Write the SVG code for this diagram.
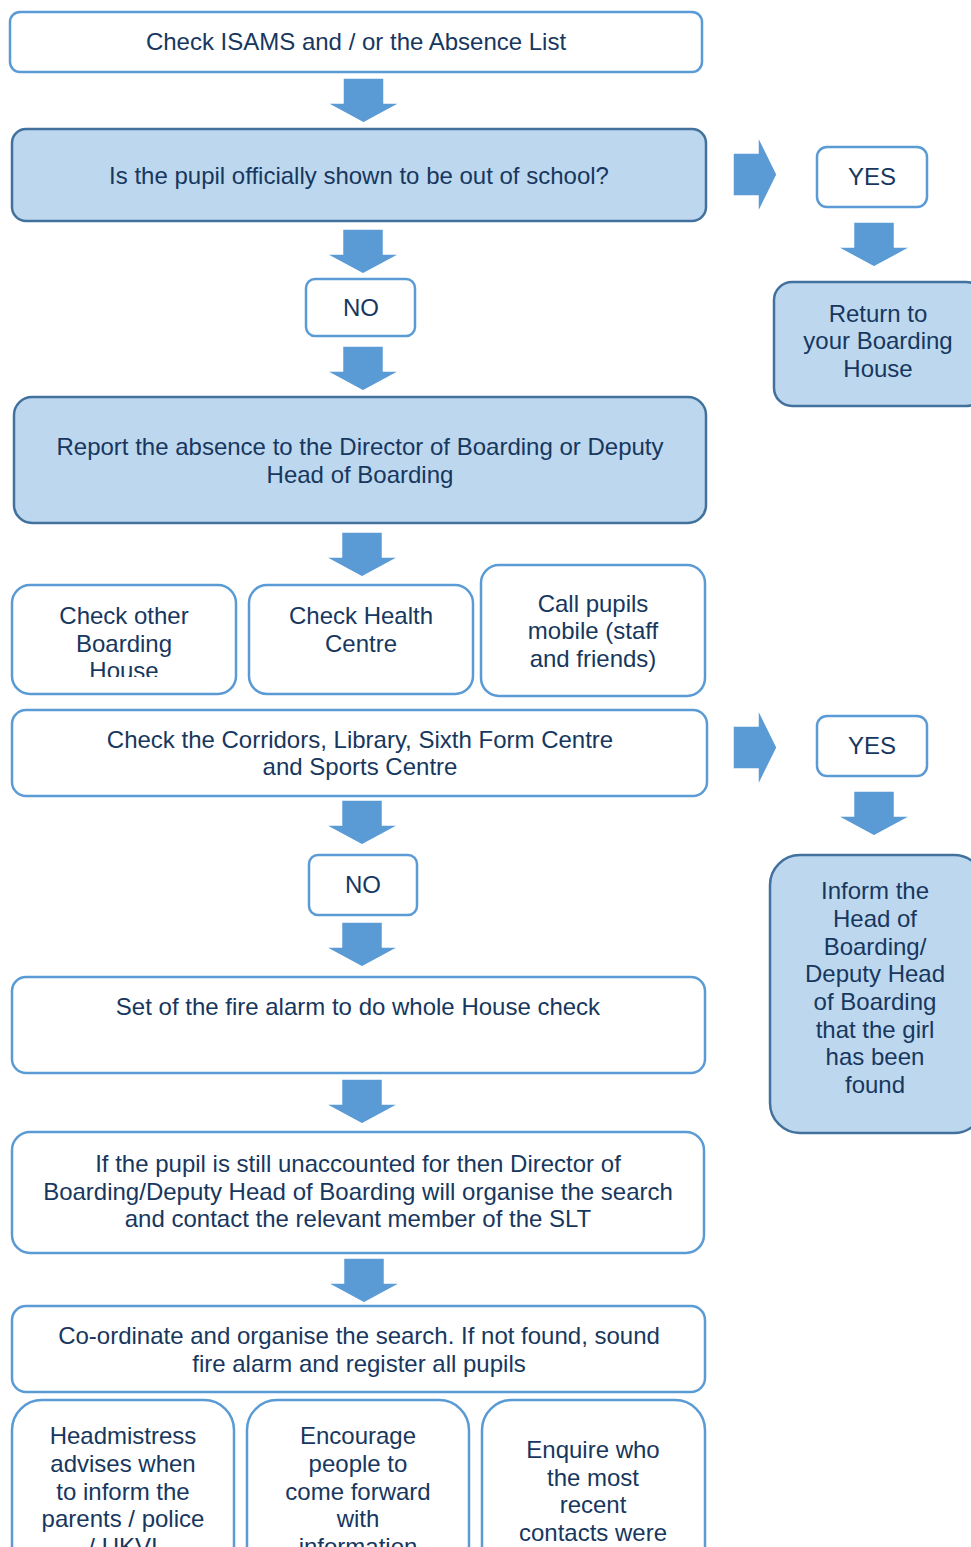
<svg xmlns="http://www.w3.org/2000/svg" xmlns:xlink="http://www.w3.org/1999/xlink" width="971" height="1547" viewBox="0 0 971 1547">
<style>
.w{fill:#ffffff;stroke:#5b9bd5;stroke-width:2.5}
.f{fill:#bdd7ee;stroke:#41719c;stroke-width:2.5}
text{font-family:"Liberation Sans",Arial,sans-serif;font-size:24px;fill:#17375e;text-anchor:middle}
.arr{fill:#5b9bd5;stroke:#ffffff;stroke-width:1.5}
</style>
<defs>
<path id="dn" d="M-20.5,0 H20.5 V25 H37 L0,45 L-37,25 H-20.5 Z"/>
<path id="rt" d="M0,-21.5 H25 V-38.5 L44,0 L25,38.5 V21.5 H0 Z"/>
<clipPath id="clipA"><rect x="12" y="585" width="224" height="92"/></clipPath>
</defs>
<rect width="971" height="1547" fill="#ffffff"/>

<g id="connectors">
<use xlink:href="#dn" class="arr" x="363.5" y="78"/>
<use xlink:href="#rt" class="arr" x="733" y="174.5"/>
<use xlink:href="#dn" class="arr" x="874" y="222"/>
<use xlink:href="#dn" class="arr" x="363" y="229"/>
<use xlink:href="#dn" class="arr" x="363" y="346"/>
<use xlink:href="#dn" class="arr" x="362" y="532"/>
<use xlink:href="#rt" class="arr" x="733" y="747.5"/>
<use xlink:href="#dn" class="arr" x="874" y="791"/>
<use xlink:href="#dn" class="arr" x="362" y="800"/>
<use xlink:href="#dn" class="arr" x="362" y="922"/>
<use xlink:href="#dn" class="arr" x="362" y="1079"/>
<use xlink:href="#dn" class="arr" x="364" y="1258"/>
</g>

<g id="n1"><rect class="w" x="10" y="12" width="692" height="60" rx="10"/><text x="356" y="50">Check ISAMS and / or the Absence List</text></g>
<g id="n2"><rect class="f" x="12" y="129" width="694" height="92" rx="14"/><text x="359" y="184">Is the pupil officially shown to be out of school?</text></g>
<g id="yes1"><rect class="w" x="817" y="147" width="110" height="60" rx="10"/><text x="872" y="185">YES</text></g>
<g id="ret"><rect class="f" x="774" y="282" width="210" height="124" rx="18"/><text x="878" y="322">Return to</text><text x="878" y="349">your Boarding</text><text x="878" y="377">House</text></g>
<g id="no1"><rect class="w" x="306" y="279" width="109" height="57" rx="9"/><text x="361" y="316">NO</text></g>
<g id="rep"><rect class="f" x="14" y="397" width="692" height="126" rx="18"/><text x="360" y="455">Report the absence to the Director of Boarding or Deputy</text><text x="360" y="483">Head of Boarding</text></g>
<g id="ca"><rect class="w" x="12" y="585" width="224" height="109" rx="18"/><g clip-path="url(#clipA)"><text x="124" y="624">Check other</text><text x="124" y="652">Boarding</text><text x="124" y="679">House</text></g></g>
<g id="cb"><rect class="w" x="249" y="585" width="224" height="109" rx="18"/><text x="361" y="624">Check Health</text><text x="361" y="652">Centre</text></g>
<g id="cc"><rect class="w" x="481" y="565" width="224" height="131" rx="18"/><text x="593" y="612">Call pupils</text><text x="593" y="639">mobile (staff</text><text x="593" y="667">and friends)</text></g>
<g id="cor"><rect class="w" x="12" y="710" width="695" height="86" rx="14"/><text x="360" y="748">Check the Corridors, Library, Sixth Form Centre</text><text x="360" y="775">and Sports Centre</text></g>
<g id="yes2"><rect class="w" x="817" y="716" width="110" height="60" rx="10"/><text x="872" y="754">YES</text></g>
<g id="inf"><rect class="f" x="770" y="855" width="214" height="278" rx="30"/><text x="875" y="899">Inform the</text><text x="875" y="927">Head of</text><text x="875" y="955">Boarding/</text><text x="875" y="982">Deputy Head</text><text x="875" y="1010">of Boarding</text><text x="875" y="1038">that the girl</text><text x="875" y="1065">has been</text><text x="875" y="1093">found</text></g>
<g id="no2"><rect class="w" x="309" y="855" width="108" height="60" rx="9"/><text x="363" y="893">NO</text></g>
<g id="fire"><rect class="w" x="12" y="977" width="693" height="96" rx="14"/><text x="358" y="1015">Set of the fire alarm to do whole House check</text></g>
<g id="slt"><rect class="w" x="12" y="1132" width="692" height="121" rx="18"/><text x="358" y="1172">If the pupil is still unaccounted for then Director of</text><text x="358" y="1200">Boarding/Deputy Head of Boarding will organise the search</text><text x="358" y="1227">and contact the relevant member of the SLT</text></g>
<g id="coord"><rect class="w" x="12" y="1306" width="693" height="86" rx="14"/><text x="359" y="1344">Co-ordinate and organise the search. If not found, sound</text><text x="359" y="1372">fire alarm and register all pupils</text></g>
<g id="ba"><rect class="w" x="12" y="1400" width="222" height="200" rx="30"/><text x="123" y="1444">Headmistress</text><text x="123" y="1472">advises when</text><text x="123" y="1500">to inform the</text><text x="123" y="1527">parents / police</text><text x="123" y="1555">/ UKVI</text></g>
<g id="bb"><rect class="w" x="247" y="1400" width="222" height="200" rx="30"/><text x="358" y="1444">Encourage</text><text x="358" y="1472">people to</text><text x="358" y="1500">come forward</text><text x="358" y="1527">with</text><text x="358" y="1555">information</text></g>
<g id="bc"><rect class="w" x="482" y="1400" width="223" height="200" rx="30"/><text x="593" y="1458">Enquire who</text><text x="593" y="1486">the most</text><text x="593" y="1513">recent</text><text x="593" y="1541">contacts were</text></g>
</svg>
